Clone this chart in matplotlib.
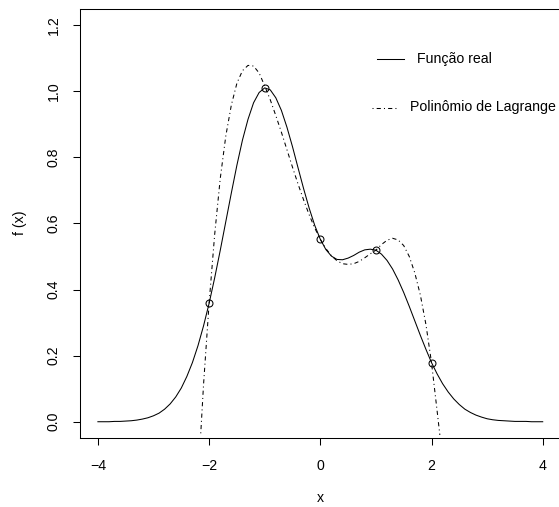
import matplotlib
matplotlib.use("Agg")
import matplotlib.pyplot as plt
from matplotlib.lines import Line2D

plt.rcParams['font.family'] = ['Liberation Sans', 'DejaVu Sans']

# Nós de interpolação
x_nodes = [-2, -1, 0, 1, 2]
y_nodes = [0.358, 1.010, 0.552, 0.519, 0.179]

# Função real (passo 0.1)
x_real = [round(-4 + 0.1 * i, 1) for i in range(81)]
y_real = [
    0.000, 0.000, 0.000, 0.001, 0.001, 0.002, 0.003, 0.005, 0.008, 0.012,
    0.018, 0.026, 0.038, 0.054, 0.075, 0.102, 0.137, 0.179, 0.230, 0.290,
    0.358, 0.435, 0.518, 0.605, 0.692, 0.776, 0.852, 0.915, 0.965, 0.996,
    1.010, 1.004, 0.980, 0.942, 0.891, 0.832, 0.768, 0.705, 0.646, 0.594,
    0.552, 0.521, 0.501, 0.491, 0.490, 0.495, 0.503, 0.513, 0.520, 0.522,
    0.519, 0.507, 0.488, 0.462, 0.429, 0.391, 0.349, 0.305, 0.261, 0.219,
    0.179, 0.145, 0.115, 0.090, 0.069, 0.052, 0.038, 0.028, 0.020, 0.014,
    0.009, 0.006, 0.004, 0.003, 0.002, 0.001, 0.001, 0.001, 0.000, 0.000,
    0.000,
]

# Polinômio de Lagrange
x_lag = [-2.15] + [round(-2.1 + 0.1 * i, 1) for i in range(43)] + [2.15]
y_lag = [
    -0.035, 0.112, 0.358, 0.566, 0.735, 0.864, 0.958, 1.024, 1.062, 1.078,
    1.076, 1.055, 1.016, 0.974, 0.926, 0.876, 0.823, 0.770, 0.719, 0.671,
    0.626, 0.586, 0.552, 0.524, 0.502, 0.487, 0.478, 0.476, 0.478, 0.485,
    0.496, 0.508, 0.519, 0.536, 0.549, 0.555, 0.550, 0.533, 0.500, 0.450,
    0.383, 0.294, 0.179, 0.034, -0.040,
]

W, H = 559, 507
fig = plt.figure(figsize=(W / 100, H / 100), dpi=100)
ax = fig.add_axes([80.1 / W, 1 - 437.6 / H, (560.5 - 80.1) / W, (437.6 - 9.2) / H])

lw = 0.75
fs = 10.2
ax.plot(x_real, y_real, color="black", lw=lw)
ax.plot(x_lag, y_lag, color="black", lw=lw, dashes=(1, 3, 4, 3))
ax.plot(x_nodes, y_nodes, "o", mfc="none", mec="black", mew=lw, ms=5)

ax.set_xlim(-4.32, 4.32)
ax.set_ylim(-0.048, 1.248)
ax.set_xticks([-4, -2, 0, 2, 4])
ax.set_xticklabels(["\u22124", "\u22122", "0", "2", "4"])
ax.set_yticks([0.0, 0.2, 0.4, 0.6, 0.8, 1.0, 1.2])
ax.set_yticklabels(["0.0", "0.2", "0.4", "0.6", "0.8", "1.0", "1.2"],
                   rotation=90, va="center")
ax.tick_params(direction="out", length=5.2, width=lw, labelsize=fs, colors="black")
ax.tick_params(axis="x", pad=10.3)
ax.tick_params(axis="y", pad=8.8)
for s in ax.spines.values():
    s.set_linewidth(lw)

fig.text(320.3 / W, 1 - 498 / H, "x", ha="center", va="center", fontsize=fs)
fig.text(20 / W, 1 - 223 / H, "f (x)", ha="center", va="center", rotation=90, fontsize=fs)

# Legenda (sem caixa)
fig.add_artist(Line2D([377 / W, 404 / W], [1 - 59 / H, 1 - 59 / H], color="black", lw=lw))
fig.text(417 / W, 1 - 59 / H, "Função real", ha="left", va="center", fontsize=fs)
fig.add_artist(Line2D([372 / W, 399 / W], [1 - 107.5 / H, 1 - 107.5 / H], color="black",
                      lw=lw, dashes=(1, 3, 4, 3)))
fig.text(410 / W, 1 - 107.5 / H, "Polinômio de Lagrange", ha="left", va="center", fontsize=fs)

fig.savefig("out.png", dpi=100)
